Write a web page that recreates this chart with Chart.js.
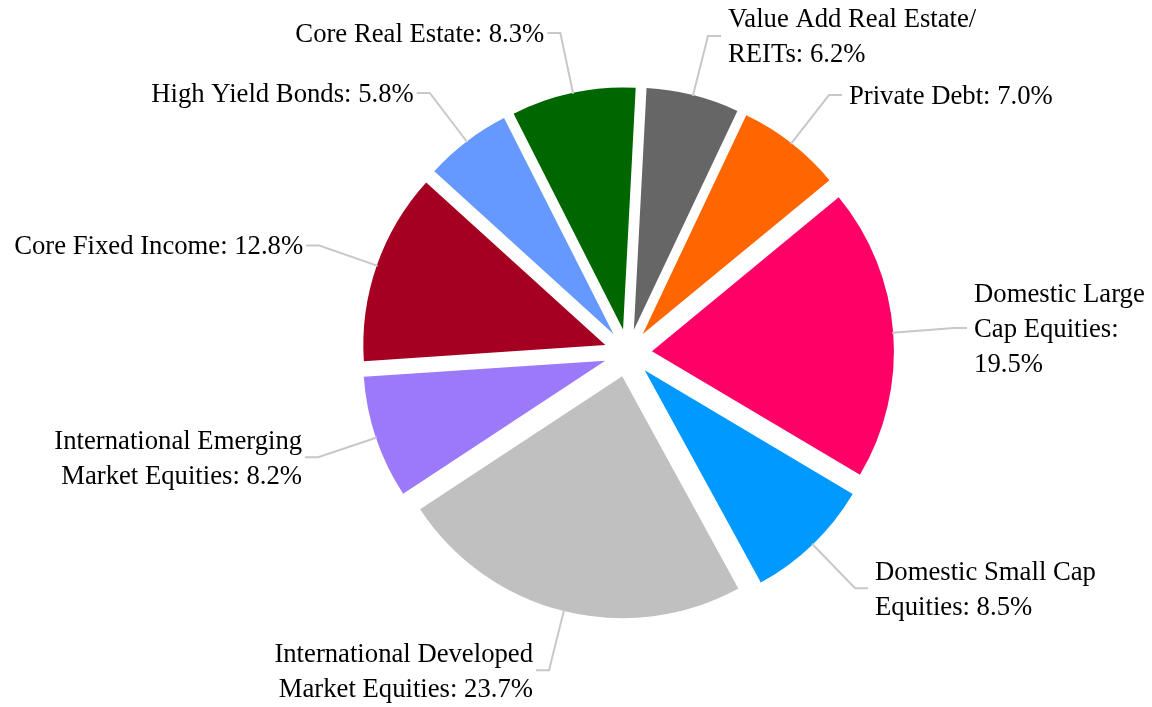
<!DOCTYPE html>
<html>
<head>
<meta charset="utf-8">
<title>Asset Allocation</title>
<script src="https://cdn.jsdelivr.net/npm/chart.js@4.4.0/dist/chart.umd.min.js"></script>
<style>
  html, body { margin: 0; padding: 0; background: #ffffff; }
  canvas { display: block; }
</style>
</head>
<body>
<canvas id="allocChart" width="1152" height="707"></canvas>
<script>
// slices run clockwise from the top
const categories = [
  'Value Add Real Estate/REITs',
  'Private Debt',
  'Domestic Large Cap Equities',
  'Domestic Small Cap Equities',
  'International Developed Market Equities',
  'International Emerging Market Equities',
  'Core Fixed Income',
  'High Yield Bonds',
  'Core Real Estate'
];
const allocation = [6.2, 7.0, 19.5, 8.5, 23.7, 8.2, 12.8, 5.8, 8.3];
const sliceColors = [
  '#666666', '#ff6600', '#ff0066', '#0099ff', '#c0c0c0',
  '#9b79f8', '#a50021', '#6699ff', '#006600'
];

const EXPLODE = 24;      // how far each slice is pulled out
const LEADER = 61;       // radial length of the leader line past the rim
const STUB = 13;         // horizontal bit of the leader line
const LINE_H = 35;
const LABEL_FONT = '26.7px "Liberation Serif", "Times New Roman", serif';

// pull each slice out along its middle angle
const explodePlugin = {
  id: 'explode',
  afterDatasetUpdate(chart, args) {
    args.meta.data.forEach(arc => {
      const mid = (arc.startAngle + arc.endAngle) / 2;
      arc.x += Math.cos(mid) * EXPLODE;
      arc.y += Math.sin(mid) * EXPLODE;
    });
  }
};

function wrapLabel(ctx, text, maxW) {
  const tokens = [];
  text.split(' ').forEach((word, wi) => {
    word.split(/(?<=\/)/).forEach((part, pi) => {
      tokens.push({ t: part, sep: pi === 0 && wi > 0 ? ' ' : '' });
    });
  });
  const lines = [];
  let line = '';
  tokens.forEach(tok => {
    const cand = line ? line + tok.sep + tok.t : tok.t;
    if (line && ctx.measureText(cand).width > maxW) {
      lines.push(line);
      line = tok.t;
    } else {
      line = cand;
    }
  });
  if (line) lines.push(line);
  return lines;
}

const labelPlugin = {
  id: 'outsideLabels',
  afterDraw(chart) {
    const ctx = chart.ctx;
    const meta = chart.getDatasetMeta(0);
    ctx.save();
    ctx.font = LABEL_FONT;
    meta.data.forEach((arc, i) => {
      const mid = (arc.startAngle + arc.endAngle) / 2;
      const r = arc.outerRadius;
      const c = Math.cos(mid), s = Math.sin(mid);
      const right = c >= 0;
      const x0 = arc.x + c * (r - 1), y0 = arc.y + s * (r - 1);
      const x1 = arc.x + c * (r + LEADER), y1 = arc.y + s * (r + LEADER);
      const x2 = x1 + (right ? STUB : -STUB);

      ctx.beginPath();
      ctx.moveTo(x0, y0);
      ctx.lineTo(x1, y1);
      ctx.lineTo(x2, y1);
      ctx.strokeStyle = '#c8c8c8';
      ctx.lineWidth = 2;
      ctx.stroke();

      const tx = right ? x2 + 7 : x2 - 3;
      const maxW = Math.min(300, right ? chart.width - tx - 1 : tx - 1);
      const text = categories[i] + ': ' + allocation[i].toFixed(1) + '%';
      const lines = wrapLabel(ctx, text, maxW);
      ctx.fillStyle = '#000000';
      ctx.textAlign = right ? 'left' : 'right';
      ctx.textBaseline = 'middle';
      const top = y1 + 2 - (lines.length - 1) * LINE_H / 2;
      lines.forEach((ln, k) => ctx.fillText(ln, tx, top + k * LINE_H));
    });
    ctx.restore();
  }
};

const ctx = document.getElementById('allocChart').getContext('2d');
const allocChart = new Chart(ctx, {
  type: 'pie',
  data: {
    labels: categories,
    datasets: [{
      data: allocation,
      backgroundColor: sliceColors,
      borderWidth: 0
    }]
  },
  options: {
    responsive: false,
    animation: false,
    rotation: 3,
    layout: { padding: { left: 300, right: 196, top: 111, bottom: 112 } },
    plugins: {
      legend: { display: false },
      tooltip: { enabled: false }
    },
    events: []
  },
  plugins: [explodePlugin, labelPlugin]
});
</script>
</body>
</html>
